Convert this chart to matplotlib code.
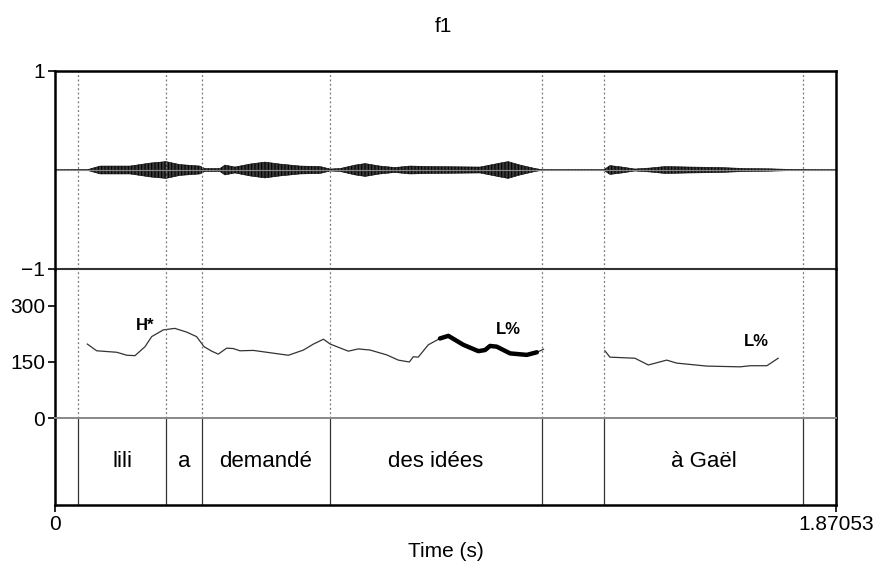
import matplotlib
matplotlib.use("Agg")
import matplotlib.pyplot as plt
import numpy as np

plt.rcParams['font.family'] = ['Liberation Sans', 'DejaVu Sans']
plt.rcParams['hatch.linewidth'] = 0.8

t_max = 1.87053

# word tier (interval boundaries in seconds, text per interval)
bounds = [0.0558, 0.2666, 0.352, 0.658, 1.1665, 1.3157, 1.7923]
words = ["lili", "a", "demandé", "des idées", "", "à Gaël", ]

# waveform amplitude envelope
wave_t = [0.0, 0.079, 0.108, 0.180, 0.228, 0.266, 0.299, 0.347, 0.359, 0.395,
          0.407, 0.431, 0.467, 0.503, 0.539, 0.587, 0.635, 0.659, 0.683, 0.719,
          0.743, 0.778, 0.814, 0.850, 0.898, 1.018, 1.066, 1.085, 1.114, 1.150,
          1.166, 1.315, 1.329, 1.358, 1.389, 1.425, 1.461, 1.521, 1.593, 1.653,
          1.713, 1.760, 1.8705]
wave_amp = [0.003, 0.005, 0.04, 0.04, 0.07, 0.085, 0.055, 0.04, 0.015, 0.015,
            0.05, 0.03, 0.06, 0.08, 0.06, 0.04, 0.035, 0.01, 0.015, 0.05,
            0.065, 0.04, 0.025, 0.04, 0.035, 0.03, 0.07, 0.085, 0.05, 0.015,
            0.004, 0.004, 0.045, 0.03, 0.01, 0.02, 0.035, 0.03, 0.025, 0.015,
            0.012, 0.006, 0.003]

# pitch track, first stretch
f0_a_t = [0.0774, 0.0998, 0.148, 0.172, 0.1916, 0.2156, 0.2316, 0.2595, 0.287,
          0.3154, 0.339, 0.357, 0.3752, 0.391, 0.411, 0.427, 0.443, 0.475,
          0.559, 0.595, 0.619, 0.643, 0.659, 0.7025, 0.7265, 0.7545, 0.7945,
          0.8223, 0.8487, 0.858, 0.870, 0.894, 0.922, 0.942, 0.978, 1.014,
          1.030, 1.042, 1.058, 1.090, 1.130, 1.154, 1.170]
f0_a_hz = [198, 180, 176, 168, 167, 191, 218, 236, 240,
           230, 218, 191, 179, 171, 187, 186, 180, 181,
           168, 182, 198, 211, 198, 179, 185, 182, 169,
           155, 150, 164, 163, 196, 213, 220, 196, 179,
           182, 193, 191, 173, 169, 176, 184]
bold_start, bold_end = 0.92, 1.16

# pitch track, second stretch
f0_b_t = [1.317, 1.329, 1.389, 1.421, 1.465, 1.489, 1.561, 1.641, 1.665, 1.705, 1.732]
f0_b_hz = [180, 163, 160, 142, 155, 147, 139, 137, 140, 140, 160]

tones = ["H*", "L%", "L%"]
tone_t = [0.2156, 1.085, 1.681]
tone_hz = [249, 236, 204]

fig = plt.figure(figsize=(8.77, 5.67), dpi=100)
left, width = 55 / 877, 781 / 877
ax_w = fig.add_axes([left, 1 - 269 / 567, width, 198 / 567])
ax_p = fig.add_axes([left, 1 - 418 / 567, width, 149 / 567])
ax_t = fig.add_axes([left, 1 - 505 / 567, width, 87 / 567])

fs = 15

# waveform
ax_w.plot([0, t_max], [0, 0], color="#888888", lw=0.8)
ax_w.fill_between(wave_t, -np.array(wave_amp), wave_amp, facecolor="#3a3a3a",
                  edgecolor="#000000", hatch="|||||", lw=0.4)
ax_w.set_ylim(-1, 1)
ax_w.set_yticks([-1, 1])
ax_w.set_yticklabels(["\u22121", "1"])
for b in bounds:
    ax_w.axvline(b, color="#777777", lw=0.9, ls=(0, (1.5, 2)))

# pitch
ax_p.plot(f0_a_t, f0_a_hz, color="#333333", lw=0.9)
bt = [t for t in f0_a_t if bold_start <= t <= bold_end]
bh = [h for t, h in zip(f0_a_t, f0_a_hz) if bold_start <= t <= bold_end]
ax_p.plot(bt, bh, color="black", lw=3.2, solid_capstyle="round")
ax_p.plot(f0_b_t, f0_b_hz, color="#333333", lw=0.9)
for b in bounds:
    ax_p.axvline(b, color="#777777", lw=0.9, ls=(0, (1.5, 2)))
for s, t, h in zip(tones, tone_t, tone_hz):
    ax_p.text(t, h, s, ha="center", va="center", fontsize=12, fontweight="bold")
ax_p.set_ylim(0, 399)
ax_p.set_yticks([0, 150, 300])

# tier
for b in bounds:
    ax_t.axvline(b, color="#333333", lw=0.9)
edges = bounds
for i, w in enumerate(words):
    if w:
        ax_t.text((edges[i] + edges[i + 1]) / 2, 0.5, w, ha="center", va="center", fontsize=16)
ax_t.set_ylim(0, 1)
ax_t.set_yticks([])
ax_t.set_xticks([0, t_max])
ax_t.set_xticklabels(["0", "1.87053"])
ax_t.set_xlabel("Time (s)", fontsize=fs, labelpad=6)

for ax in (ax_w, ax_p, ax_t):
    ax.set_xlim(0, t_max)
    ax.tick_params(labelsize=fs, length=5, width=1.2, direction="out", pad=2)
    ax.patch.set_alpha(0)
    for sp in ax.spines.values():
        sp.set_linewidth(1.8)
        sp.set_color("black")
for ax in (ax_w, ax_p):
    ax.set_xticks([])

ax_w.spines["bottom"].set_linewidth(1.5)
ax_w.spines["bottom"].set_color("#333333")
ax_p.spines["top"].set_visible(False)
ax_p.spines["bottom"].set_visible(False)
ax_t.spines["top"].set_color("#888888")
ax_t.spines["top"].set_linewidth(1.4)

fig.text(443 / 877, 1 - 26 / 567, "f1", ha="center", va="center", fontsize=fs)

fig.savefig("out.png", dpi=100)
